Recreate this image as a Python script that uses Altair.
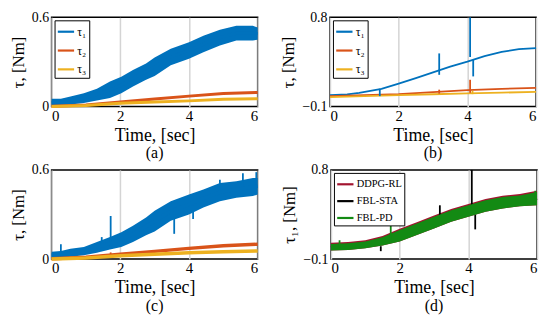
import altair as alt
import pandas as pd

SERIF = "Liberation Serif, DejaVu Serif, serif"
BLUE, ORANGE, YELLOW = "#0072BD", "#D95319", "#EDB120"
RED, BLACK, GREEN = "#A2142F", "#000000", "#138A13"
TAU = ["τ₁", "τ₂", "τ₃"]
CTRL = ["DDPG-RL", "FBL-STA", "FBL-PD"]

# time grids
T_BAND = [0, 0.27, 0.55, 0.94, 1.32, 1.7, 2.03, 2.37, 2.75, 3.0, 3.47, 4.0, 4.42, 4.9, 5.38, 5.86, 6.0]
T_LINE = [0, 1, 2, 3, 4, 5, 6]
T_B = [0, 0.5, 0.85, 1.5, 2, 2.5, 3, 3.5, 4, 4.5, 5, 5.5, 6]
T_D = [0, 0.5, 1, 1.5, 2, 2.5, 3, 3.5, 4, 4.5, 5, 5.5, 6]

# (a) noisy tau1 envelope, tau2/tau3 traces
A1_HI = [0.053, 0.053, 0.068, 0.09, 0.12, 0.168, 0.2, 0.245, 0.29, 0.33, 0.389, 0.433, 0.477, 0.517, 0.543, 0.543, 0.532]
A1_LO = [0.002, 0.004, 0.013, 0.024, 0.04, 0.057, 0.09, 0.135, 0.18, 0.206, 0.278, 0.322, 0.366, 0.41, 0.444, 0.444, 0.45]
A1_MID = [0.028, 0.029, 0.04, 0.057, 0.08, 0.112, 0.145, 0.19, 0.235, 0.268, 0.333, 0.378, 0.42, 0.463, 0.493, 0.493, 0.491]
A2 = [0.002, 0.01, 0.03, 0.05, 0.07, 0.088, 0.095]
A3 = [0.0, 0.007, 0.022, 0.03, 0.038, 0.049, 0.053]

# (b) smooth traces + spikes (t, from, to)
B1 = [0.015, 0.022, 0.038, 0.078, 0.131, 0.187, 0.244, 0.303, 0.353, 0.409, 0.452, 0.479, 0.489]
B2 = [0.005, 0.015, 0.025, 0.045, 0.065, 0.078, 0.088]
B3 = [-0.005, 0.005, 0.015, 0.024, 0.032, 0.04, 0.048]
B_SPK_T = [1.45, 3.18, 4.08, 4.17, 3.18, 4.08, 4.15]
B_SPK_LO = [0.005, 0.22, 0.40, 0.204, 0.03, 0.038, 0.025]
B_SPK_HI = [0.078, 0.436, 0.8, 0.37, 0.07, 0.17, 0.06]
B_SPK_S = ["τ₁", "τ₁", "τ₁", "τ₁", "τ₂", "τ₂", "τ₃"]

# (c) noisy tau1 envelope, tau2/tau3 traces, spikes
C1_HI = [0.049, 0.055, 0.07, 0.082, 0.115, 0.148, 0.18, 0.225, 0.28, 0.325, 0.39, 0.435, 0.468, 0.512, 0.523, 0.545, 0.545]
C1_LO = [0.004, 0.008, 0.015, 0.026, 0.042, 0.064, 0.082, 0.115, 0.16, 0.185, 0.258, 0.30, 0.347, 0.39, 0.413, 0.424, 0.435]
C1_MID = [0.027, 0.031, 0.042, 0.054, 0.078, 0.106, 0.131, 0.17, 0.22, 0.255, 0.324, 0.368, 0.408, 0.451, 0.468, 0.485, 0.49]
C2 = [0.002, 0.012, 0.032, 0.052, 0.072, 0.09, 0.1]
C3 = [0.0, 0.008, 0.022, 0.032, 0.042, 0.05, 0.055]
C_SPK_T = [0.27, 1.46, 1.72, 3.57, 4.12, 4.9, 5.57, 5.96, 1.72]
C_SPK_LO = [0.03, 0.09, 0.08, 0.17, 0.27, 0.47, 0.47, 0.48, 0.015]
C_SPK_HI = [0.10, 0.148, 0.29, 0.30, 0.36, 0.534, 0.578, 0.585, 0.045]
C_SPK_S = ["τ₁"] * 8 + ["τ₂"]

# (d) controllers on tau1
D_G_HI = [0.053, 0.06, 0.077, 0.12, 0.193, 0.26, 0.327, 0.393, 0.443, 0.493, 0.527, 0.543, 0.577]
D_G_LO = [-0.013, -0.007, 0.01, 0.037, 0.077, 0.143, 0.21, 0.277, 0.327, 0.377, 0.41, 0.433, 0.443]
D_R_HI = [0.064, 0.072, 0.09, 0.133, 0.206, 0.273, 0.34, 0.406, 0.456, 0.506, 0.54, 0.557, 0.59]
D_MID = [0.02, 0.027, 0.043, 0.078, 0.135, 0.2, 0.268, 0.335, 0.385, 0.435, 0.468, 0.488, 0.51]
D_K_SPK_T = [1.45, 3.17, 4.1, 4.2]
D_K_SPK_LO = [-0.02, 0.3, 0.35, 0.2]
D_K_SPK_HI = [0.03, 0.443, 0.8, 0.35]
D_G_SPK_T = [0.25, 1.74, 5.95]
D_G_SPK_LO = [0.02, 0.1, 0.5]
D_G_SPK_HI = [0.09, 0.293, 0.59]

W, H = 208, 90
AX = dict(labelFont=SERIF, labelColor="black",
          titleFont=SERIF, titleFontWeight="normal", titleColor="black",
          domain=False, ticks=False, gridColor="#d4d4d4", gridWidth=1.5,
          format="~g")


def xenc():
    return alt.X("t:Q", scale=alt.Scale(domain=[0, 6], nice=False, zero=False),
                 axis=alt.Axis(values=[0, 2, 4, 6], title="Time, [sec]", grid=True,
                               labelPadding=2, titlePadding=3, titleFontSize=18,
                               labelFontSize=15, **AX))


def yscale(dom):
    return alt.Scale(domain=dom, nice=False, zero=False)


def yaxis(dom, title):
    return alt.Axis(values=dom, title=title, grid=False, labelPadding=3,
                    titlePadding=4, titleFontSize=17, labelFontSize=14, **AX)


def band(t, lo, hi, color, dom, title):
    df = pd.DataFrame({"t": t, "lo": lo, "hi": hi})
    return alt.Chart(df).mark_area(color=color, opacity=1, interpolate="linear").encode(
        x=xenc(),
        y=alt.Y("lo:Q", scale=yscale(dom), axis=yaxis(dom, title)),
        y2="hi:Q")


def lines(t_lists, y_lists, names, colors, dom, title, width, label_size=12, row_pad=3):
    rows = []
    for tl, yl, n in zip(t_lists, y_lists, names):
        for i, (tv, yv) in enumerate(zip(tl, yl)):
            rows.append({"t": tv, "y": yv, "s": n, "o": i})
    df = pd.DataFrame(rows)
    return alt.Chart(df).mark_line(strokeWidth=width).encode(
        x=xenc(),
        y=alt.Y("y:Q", scale=yscale(dom), axis=yaxis(dom, title)),
        order="o:Q",
        stroke=alt.Stroke("s:N", scale=alt.Scale(domain=names, range=colors),
                          sort=names,
                          legend=alt.Legend(title=None, orient="top-left", offset=3,
                                            padding=2, strokeColor="black",
                                            fillColor="white", labelFont=SERIF,
                                            labelColor="black",
                                            labelFontSize=label_size, symbolType="stroke",
                                            symbolSize=270, symbolStrokeWidth=2.2,
                                            rowPadding=row_pad, labelOffset=2)))


def spikes(t, lo, hi, s, names, colors, dom, title, width=1.8):
    df = pd.DataFrame({"t": t, "lo": lo, "hi": hi, "s": s})
    return alt.Chart(df).mark_rule(strokeWidth=width).encode(
        x=xenc(),
        y=alt.Y("lo:Q", scale=yscale(dom), axis=yaxis(dom, title)),
        y2="hi:Q",
        color=alt.Color("s:N", scale=alt.Scale(domain=names, range=colors), legend=None))


def caption(txt):
    return alt.TitleParams(txt, orient="bottom", font=SERIF, fontSize=16,
                           fontWeight="normal", color="black", offset=1)


TCOL = [BLUE, ORANGE, YELLOW]
DA, DB = [0, 0.6], [-0.1, 0.8]
YT = "τ, [Nm]"
YT1 = "τ₁, [Nm]"

pa = alt.layer(
    band(T_BAND, A1_LO, A1_HI, BLUE, DA, YT),
    lines([T_BAND, T_LINE, T_LINE], [A1_MID, A2, A3], TAU, TCOL, DA, YT, 3),
).properties(width=W, height=H, title=caption("(a)"))

pb = alt.layer(
    lines([T_B, T_LINE, T_LINE], [B1, B2, B3], TAU, TCOL, DB, YT, 1.8),
    spikes(B_SPK_T, B_SPK_LO, B_SPK_HI, B_SPK_S, TAU, TCOL, DB, YT),
).properties(width=W, height=H, title=caption("(b)"))

pc = alt.layer(
    band(T_BAND, C1_LO, C1_HI, BLUE, DA, YT),
    spikes(C_SPK_T, C_SPK_LO, C_SPK_HI, C_SPK_S, TAU, TCOL, DA, YT),
    lines([T_BAND, T_LINE, T_LINE], [C1_MID, C2, C3], TAU, TCOL, DA, YT, 3.5),
).properties(width=W, height=H, title=caption("(c)"))

pd_ = alt.layer(
    lines([T_D, T_D, T_D], [D_MID, D_MID, D_MID], CTRL, [RED, BLACK, GREEN], DB, YT1,
          2, label_size=10.5, row_pad=2),
    band(T_D, D_G_LO, D_R_HI, RED, DB, YT1),
    spikes(D_K_SPK_T, D_K_SPK_LO, D_K_SPK_HI, ["FBL-STA"] * 4, CTRL, [RED, BLACK, GREEN], DB, YT1),
    band(T_D, D_G_LO, D_G_HI, GREEN, DB, YT1),
    spikes(D_G_SPK_T, D_G_SPK_LO, D_G_SPK_HI, ["FBL-PD"] * 3, CTRL, [RED, BLACK, GREEN], DB, YT1),
).properties(width=W, height=H, title=caption("(d)"))

res = dict(stroke="independent", color="independent", x="independent", y="independent")
top = alt.hconcat(pa, pb, spacing=14).resolve_scale(**res)
bot = alt.hconcat(pc, pd_, spacing=14).resolve_scale(**res)

chart = alt.vconcat(top, bot, spacing=0).resolve_scale(**res).properties(
    padding={"left": 0, "top": 0, "right": 0, "bottom": 0}
).configure_view(stroke="black", strokeWidth=1.5)

chart.save("out.html", embed_options={"renderer": "svg", "actions": False})
